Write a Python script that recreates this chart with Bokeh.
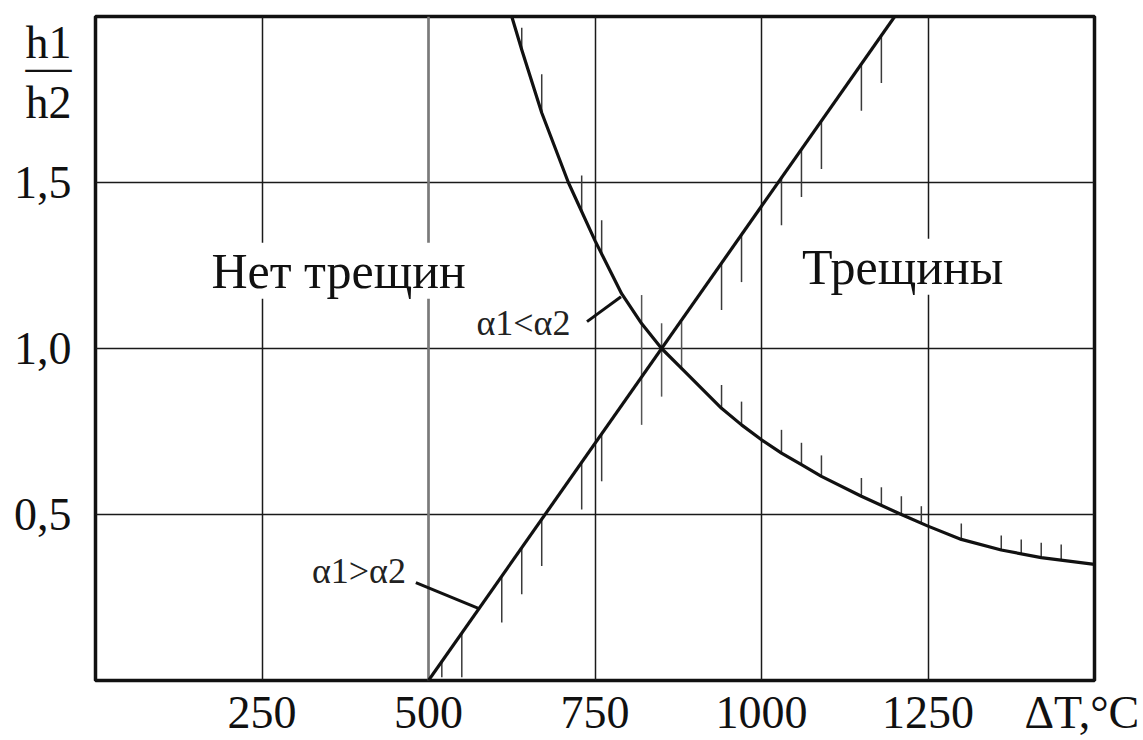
from bokeh.plotting import figure
from bokeh.models import (Label, Span, FixedTicker, Range1d, CustomJSTickFormatter)
from bokeh.embed import file_html
from bokeh.resources import INLINE

# ---------------- data ----------------
x_ticks = [250, 500, 750, 1000, 1250]
x_tick_labels = ["250", "500", "750", "1000", "1250"]
x_title = "ΔT,°C"
y_ticks = [0.5, 1.0, 1.5]
y_tick_labels = ["0,5", "1,0", "1,5"]
y_title = ["h1", "—", "h2"]

# alpha1 > alpha2 : straight rising line
rise_x = [500, 1200]
rise_y = [0.0, 2.0]

# alpha1 < alpha2 : falling curve
fall_x = [625, 640, 670, 710, 750, 790, 820, 850, 880, 940, 970, 1000, 1030,
          1060, 1090, 1150, 1210, 1250, 1300, 1360, 1420, 1500]
fall_y = [2.00, 1.90, 1.71, 1.50, 1.325, 1.165, 1.075, 1.00, 0.94, 0.82, 0.77,
          0.725, 0.685, 0.65, 0.615, 0.555, 0.50, 0.465, 0.425, 0.393, 0.37, 0.35]

# scatter bars on the rising line
rise_err_x = [520, 550, 610, 640, 670, 730, 760, 940, 970, 1030, 1060, 1090, 1150, 1180]
rise_err_lo = [0.01, 0.01, 0.175, 0.26, 0.345, 0.515, 0.60, 1.116, 1.20, 1.371, 1.456, 1.541, 1.716, 1.80]
rise_err_hi = [0.057, 0.143, 0.314, 0.40, 0.486, 0.657, 0.743, 1.257, 1.343, 1.514, 1.60, 1.686, 1.857, 1.943]

# scatter bars on the falling curve
fall_err_x = [640, 670, 730, 760, 940, 970, 1030, 1060, 1090, 1150, 1180, 1210,
              1240, 1300, 1360, 1390, 1420, 1450]
fall_err_lo = [1.90, 1.71, 1.41, 1.28, 0.82, 0.77, 0.685, 0.65, 0.615, 0.555,
               0.527, 0.50, 0.474, 0.425, 0.393, 0.38, 0.37, 0.362]
fall_err_hi = [1.966, 1.826, 1.521, 1.386, 0.89, 0.84, 0.755, 0.716, 0.678, 0.61,
               0.582, 0.555, 0.525, 0.473, 0.437, 0.425, 0.415, 0.41]

# bars near the crossing point
cross_err_x = [820, 850, 880]
cross_err_lo = [0.77, 0.855, 0.935]
cross_err_hi = [1.161, 1.076, 1.08]

SERIF = "Liberation Serif"
INK = "#111111"

# ---------------- figure ----------------
p = figure(width=1143, height=740, x_range=Range1d(0, 1500), y_range=Range1d(0, 2),
           output_backend="svg", toolbar_location=None,
           min_border_left=95, min_border_right=49, min_border_top=16, min_border_bottom=59)
p.background_fill_color = "white"
p.border_fill_color = "white"
p.outline_line_color = INK
p.outline_line_width = 3.5

LOOKUP = ("const i = tv.findIndex(t => Math.abs(t - tick) < 1e-6);"
          " return i >= 0 ? lv[i] : '';")

# x axis (tick labels + axis title placed at the right end)
x_title_pos = 1481
p.xaxis.ticker = FixedTicker(ticks=x_ticks + [x_title_pos])
p.xaxis.formatter = CustomJSTickFormatter(
    args=dict(tv=x_ticks + [x_title_pos], lv=x_tick_labels + [x_title]), code=LOOKUP)
p.xaxis.major_label_standoff = 6

# y axis (tick labels + h1/h2 fraction title at the top)
y_title_pos = [1.923, 1.848, 1.740]
p.yaxis.ticker = FixedTicker(ticks=y_ticks + y_title_pos)
p.yaxis.formatter = CustomJSTickFormatter(
    args=dict(tv=y_ticks + y_title_pos, lv=y_tick_labels + y_title), code=LOOKUP)
p.yaxis.major_label_standoff = 24

for ax in (p.xaxis, p.yaxis):
    ax.axis_line_color = None
    ax.major_tick_line_color = None
    ax.minor_tick_line_color = None
    ax.major_tick_out = 0
    ax.major_tick_in = 0
    ax.major_label_text_font = SERIF
    ax.major_label_text_font_size = "46px"
    ax.major_label_text_color = INK

# grid
p.xgrid.ticker = FixedTicker(ticks=x_ticks)
p.ygrid.ticker = FixedTicker(ticks=y_ticks)
for g in (p.xgrid, p.ygrid):
    g.grid_line_color = "#1a1a1a"
    g.grid_line_width = 1.5
p.add_layout(Span(location=x_ticks[1], dimension="height", line_color="#7a7a7a",
                  line_width=2.5, level="underlay"))

# scatter bars
p.segment(x0=rise_err_x, y0=rise_err_lo, x1=rise_err_x, y1=rise_err_hi,
          line_color="#3a3a3a", line_width=1.5)
p.segment(x0=fall_err_x, y0=fall_err_lo, x1=fall_err_x, y1=fall_err_hi,
          line_color="#3a3a3a", line_width=1.5)
p.segment(x0=cross_err_x, y0=cross_err_lo, x1=cross_err_x, y1=cross_err_hi,
          line_color="#555555", line_width=1.5)

# curves
p.line(rise_x, rise_y, line_color=INK, line_width=3.2)
p.line(fall_x, fall_y, line_color=INK, line_width=3.2, line_join="round")

# leader lines for curve labels
p.line([738, 789], [1.081, 1.156], line_color=INK, line_width=3)
p.line([481, 575], [0.295, 0.217], line_color=INK, line_width=3)

# region texts (white box hides grid lines behind them)
def add_text(x, y, text, size, align="center", color=INK):
    p.add_layout(Label(x=x, y=y, text=text, text_align=align, text_baseline="middle",
                       text_font=SERIF, text_font_size=size, text_color=color,
                       background_fill_color="white"))

add_text(365, 1.234, "Нет трещин", "50px")
add_text(1212, 1.246, "Трещины", "50px")
add_text(572, 1.076, "α1<α2", "36px", align="left", color="#222222")
add_text(325, 0.331, "α1>α2", "36px", align="left", color="#222222")

open("out.html", "w").write(file_html(p, INLINE))
